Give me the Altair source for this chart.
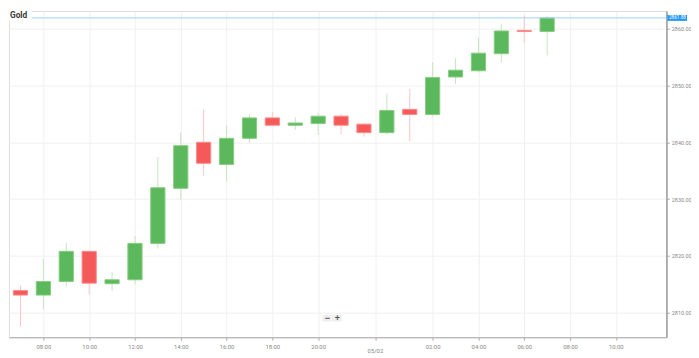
import altair as alt
import pandas as pd

# candle time labels (hourly, 23:00 break skipped)
times = ["06:00", "07:00", "08:00", "09:00", "10:00", "11:00", "12:00", "13:00",
         "14:00", "15:00", "16:00", "17:00", "18:00", "19:00", "20:00", "21:00",
         "22:00", "00:00", "01:00", "02:00", "03:00", "04:00", "05:00", "06:00", "07:00"]
opens = [2816.2, 2813.9, 2813.1, 2815.5, 2820.8, 2815.1, 2815.8, 2822.2,
         2831.9, 2840.0, 2836.1, 2840.7, 2844.3, 2843.0, 2843.3, 2844.6,
         2843.2, 2841.7, 2845.8, 2844.9, 2851.5, 2852.6, 2855.6, 2859.7, 2859.5]
highs = [2816.5, 2814.8, 2819.5, 2822.3, 2820.9, 2817.2, 2823.5, 2837.4,
         2841.8, 2845.8, 2842.9, 2845.0, 2845.4, 2844.4, 2845.2, 2845.0,
         2843.3, 2848.6, 2849.4, 2854.1, 2854.8, 2858.4, 2860.9, 2862.3, 2862.2]
lows = [2813.6, 2807.6, 2810.6, 2814.6, 2813.2, 2813.8, 2815.0, 2821.3,
        2829.9, 2834.1, 2833.1, 2839.9, 2843.0, 2842.2, 2841.3, 2841.4,
        2841.0, 2841.3, 2840.2, 2844.5, 2850.3, 2852.3, 2854.1, 2857.5, 2855.3]
closes = [2813.9, 2813.1, 2815.5, 2820.8, 2815.2, 2815.8, 2822.2, 2832.0,
          2839.4, 2836.3, 2840.7, 2844.3, 2843.0, 2843.4, 2844.6, 2843.0,
          2841.7, 2845.6, 2844.9, 2851.4, 2852.7, 2855.7, 2859.6, 2859.5, 2861.9]

x_tick_pos = [2, 4, 6, 8, 10, 12, 14, 16.5, 19, 21, 23, 25, 27]
x_tick_lab = ["08:00", "10:00", "12:00", "14:00", "16:00", "18:00", "20:00", "",
              "02:00", "04:00", "06:00", "08:00", "10:00"]
date_pos = [16.5]
date_lab = ["05/02"]
y_ticks = [2810, 2820, 2830, 2840, 2850, 2860]
last_price = 2861.9
last_price_text = "2861.88"
title_text = "Gold"

df = pd.DataFrame({"i": list(range(len(times))), "time": times, "open": opens,
                   "high": highs, "low": lows, "close": closes})
df["up"] = df["close"] >= df["open"]

W, H = 669, 332
xdom = [0.498, 29.21]
ydom = [2805.675, 2863.114]

xs = alt.Scale(domain=xdom, nice=False, zero=False)
ys = alt.Scale(domain=ydom, nice=False, zero=False)

label_expr = " : ".join(f"datum.value == {p} ? '{l}'" for p, l in zip(x_tick_pos, x_tick_lab)) + " : ''"

x_axis = alt.Axis(values=x_tick_pos, labelExpr=label_expr, grid=True, gridColor="#f0f0f0",
                  domainColor="#aaaaaa", tickColor="#aaaaaa", tickSize=3, labelFontSize=6,
                  labelColor="#888888", labelPadding=3, title=None, labelFont="Roboto",
                  labelOverlap=False)
y_axis = alt.Axis(orient="right", values=y_ticks, format=".2f", grid=True, gridColor="#f0f0f0",
                  domainColor="#9a9a9a", domainWidth=1.5, tickColor="#aaaaaa", tickSize=3,
                  labelFontSize=5.5, labelColor="#888888", labelPadding=2, title=None,
                  labelFont="Roboto")

base = alt.Chart(df)

wick = base.mark_rule(strokeWidth=1, clip=True).encode(
    x=alt.X("i:Q", scale=xs, axis=x_axis),
    y=alt.Y("low:Q", scale=ys, axis=y_axis),
    y2="high:Q",
    color=alt.condition("datum.up", alt.value("#c6e6c0"), alt.value("#ffc4c4")),
)

body = base.transform_calculate(x1="datum.i - 0.31", x2="datum.i + 0.31").mark_rect(
    clip=True, strokeWidth=1).encode(
    x=alt.X("x1:Q", scale=xs),
    x2="x2:Q",
    y=alt.Y("open:Q", scale=ys),
    y2="close:Q",
    fill=alt.condition("datum.up", alt.value("#5cb85c"), alt.value("#f55a5a")),
    stroke=alt.condition("datum.up", alt.value("#86cc80"), alt.value("#ff8a8a")),
)

price_rule = alt.Chart(pd.DataFrame({"p": [last_price]})).mark_rule(
    color="#9fd0f5", strokeWidth=1).encode(
    y=alt.Y("p:Q", scale=ys), x=alt.value(0), x2=alt.value(W))

price_box = alt.Chart(pd.DataFrame({"p": [last_price]})).mark_rect(
    color="#2196f3", yOffset=-3, y2Offset=3).encode(
    y=alt.Y("p:Q", scale=ys), y2="p:Q", x=alt.value(W + 1), x2=alt.value(W + 21))

price_txt = alt.Chart(pd.DataFrame({"p": [last_price], "t": [last_price_text]})).mark_text(
    color="white", fontSize=4.8, align="left", baseline="middle", font="Roboto").encode(
    y=alt.Y("p:Q", scale=ys), x=alt.value(W + 2.5), text="t:N")

title_bg = alt.Chart(pd.DataFrame({"t": [title_text]})).mark_rect(color="white").encode(
    x=alt.value(0), x2=alt.value(23), y=alt.value(0), y2=alt.value(10))
title = alt.Chart(pd.DataFrame({"t": [title_text]})).mark_text(
    fontSize=8.5, fontWeight="bold", color="#3a3a3a", align="left", baseline="middle",
    font="Roboto").encode(x=alt.value(1), y=alt.value(4), text="t:N")

date_txt = alt.Chart(pd.DataFrame({"p": date_pos, "t": date_lab})).mark_text(
    fontSize=6, color="#888888", baseline="middle", font="Roboto").encode(
    x=alt.X("p:Q", scale=xs), y=alt.value(H + 14), text="t:N")

btns = alt.Chart(pd.DataFrame({"s": ["−", "+"], "a": [319, 329]})).mark_rect(
    color="#efefef").encode(
    x=alt.X("a:Q", scale=None), x2=alt.X2("b:Q"), y=alt.value(309), y2=alt.value(316)
).transform_calculate(b="datum.a + 9.5")
btn_txt = alt.Chart(pd.DataFrame({"s": ["−", "+"], "a": [324, 334]})).mark_text(
    color="#555555", fontSize=9, fontWeight="bold", baseline="middle").encode(
    x=alt.X("a:Q", scale=None), y=alt.value(312.5), text="s:N")

chart = alt.layer(wick, body, price_rule, title_bg, title, price_box, price_txt,
                  date_txt, btns, btn_txt).properties(
    width=W, height=H, padding=0
).configure_view(stroke=None).configure(background="white")

chart.save("out.html", embed_options={"renderer": "svg", "actions": False})
